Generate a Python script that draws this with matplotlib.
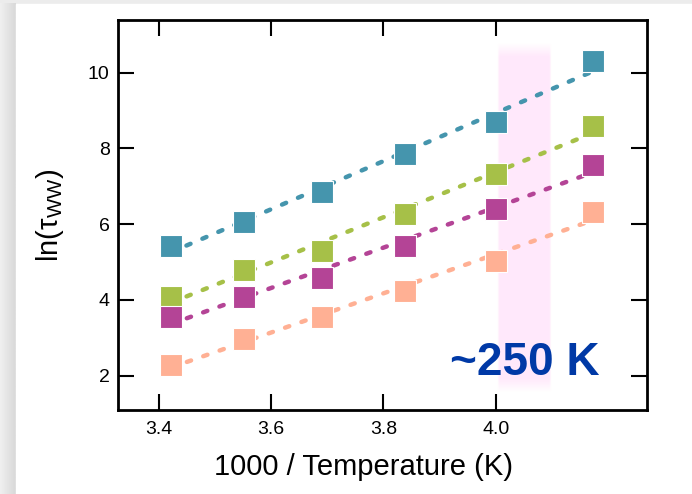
import numpy as np
import matplotlib
matplotlib.use("Agg")
import matplotlib.pyplot as plt
from matplotlib.patches import Rectangle

plt.rcParams['font.family'] = ['Liberation Sans', 'DejaVu Sans']
plt.rcParams['mathtext.fontset'] = 'custom'
plt.rcParams['mathtext.rm'] = 'Liberation Sans'

# 1000/T values (x) and ln(tau_WW) for the four series
inv_temp = [3.421, 3.551, 3.690, 3.838, 4.000, 4.174]
ln_tau_teal = [5.42, 6.07, 6.85, 7.85, 8.69, 10.30]
ln_tau_green = [4.07, 4.78, 5.30, 6.28, 7.32, 8.59]
ln_tau_magenta = [3.55, 4.09, 4.59, 5.42, 6.39, 7.57]
ln_tau_salmon = [2.28, 2.98, 3.54, 4.23, 5.03, 6.33]

series = [ln_tau_teal, ln_tau_green, ln_tau_magenta, ln_tau_salmon]
colors = ['#4595ad', '#a6c048', '#b44496', '#ffb094']

# highlighted band around 250 K
band_x = [4.002, 4.099]
band_y = [1.55, 10.8]

fig = plt.figure(figsize=(6.92, 4.94), dpi=100)
fig.patch.set_facecolor('#ececec')

# white panel with a soft shadow on the left
bg = fig.add_axes([0, 0, 1, 1], zorder=-10)
bg.set_xlim(0, 692)
bg.set_ylim(494, 0)
bg.axis('off')
shade = np.linspace(0.94, 0.85, 16)
bg.imshow(np.tile(shade, (494, 1)), cmap='gray', vmin=0, vmax=1,
          extent=[0, 16, 494, 4], aspect='auto')
bg.add_patch(Rectangle((16, 4), 700, 500, color='white'))

ax = fig.add_axes([118 / 692, 1 - 410 / 494, (647 - 118) / 692, (410 - 20) / 494])

# pink band with fuzzy edges
nx_, ny_ = 60, 200
xx = np.linspace(-1, 1, nx_)
yy = np.linspace(-1, 1, ny_)
ax_a = np.clip((1 - np.abs(xx)) / 0.08, 0, 1)
ay_a = np.clip((1 - np.abs(yy)) / 0.08, 0, 1)
alpha = np.outer(ay_a, ax_a)
img = np.zeros((ny_, nx_, 4))
img[..., 0] = 1.0
img[..., 1] = 0.91
img[..., 2] = 0.985
img[..., 3] = alpha
ax.imshow(img, extent=[band_x[0], band_x[1], band_y[0], band_y[1]],
          aspect='auto', zorder=0, interpolation='bilinear')

x = np.array(inv_temp)
for vals, c in zip(series, colors):
    k, b = np.polyfit(x, vals, 1)
    xf = np.array([x[0], x[-1]])
    ax.plot(xf, k * xf + b, color=c, lw=3.2, dashes=(1.0, 2.9),
            dash_capstyle='round', zorder=2)
    ax.plot(x, vals, 's', color=c, ms=15.6, mec='white', mew=0.8, zorder=3)

ax.set_xlim(3.3275, 4.2695)
ax.set_ylim(1.095, 11.39)
ax.set_xticks([3.4, 3.6, 3.8, 4.0])
ax.set_xticklabels(['3.4', '3.6', '3.8', '4.0'])
ax.set_yticks([2, 4, 6, 8, 10])

for s in ax.spines.values():
    s.set_linewidth(2.0)
ax.tick_params(direction='in', length=11.5, width=1.5, top=True, right=True,
               labelsize=14, colors='black')
ax.tick_params(axis='x', pad=8)
ax.tick_params(axis='y', pad=6)

ax.set_xlabel('1000 / Temperature (K)', fontsize=21, labelpad=11)
ax.xaxis.label.set_x(0.465)
ax.set_ylabel(r'ln(τ$_{\mathrm{WW}}$)', fontsize=21, labelpad=16)

ax.text(0.911, 0.09, '~250 K', transform=ax.transAxes, ha='right',
        va='baseline', fontsize=33, fontweight='bold', color='#0039a6', zorder=4)

fig.savefig('out.png', dpi=100)
